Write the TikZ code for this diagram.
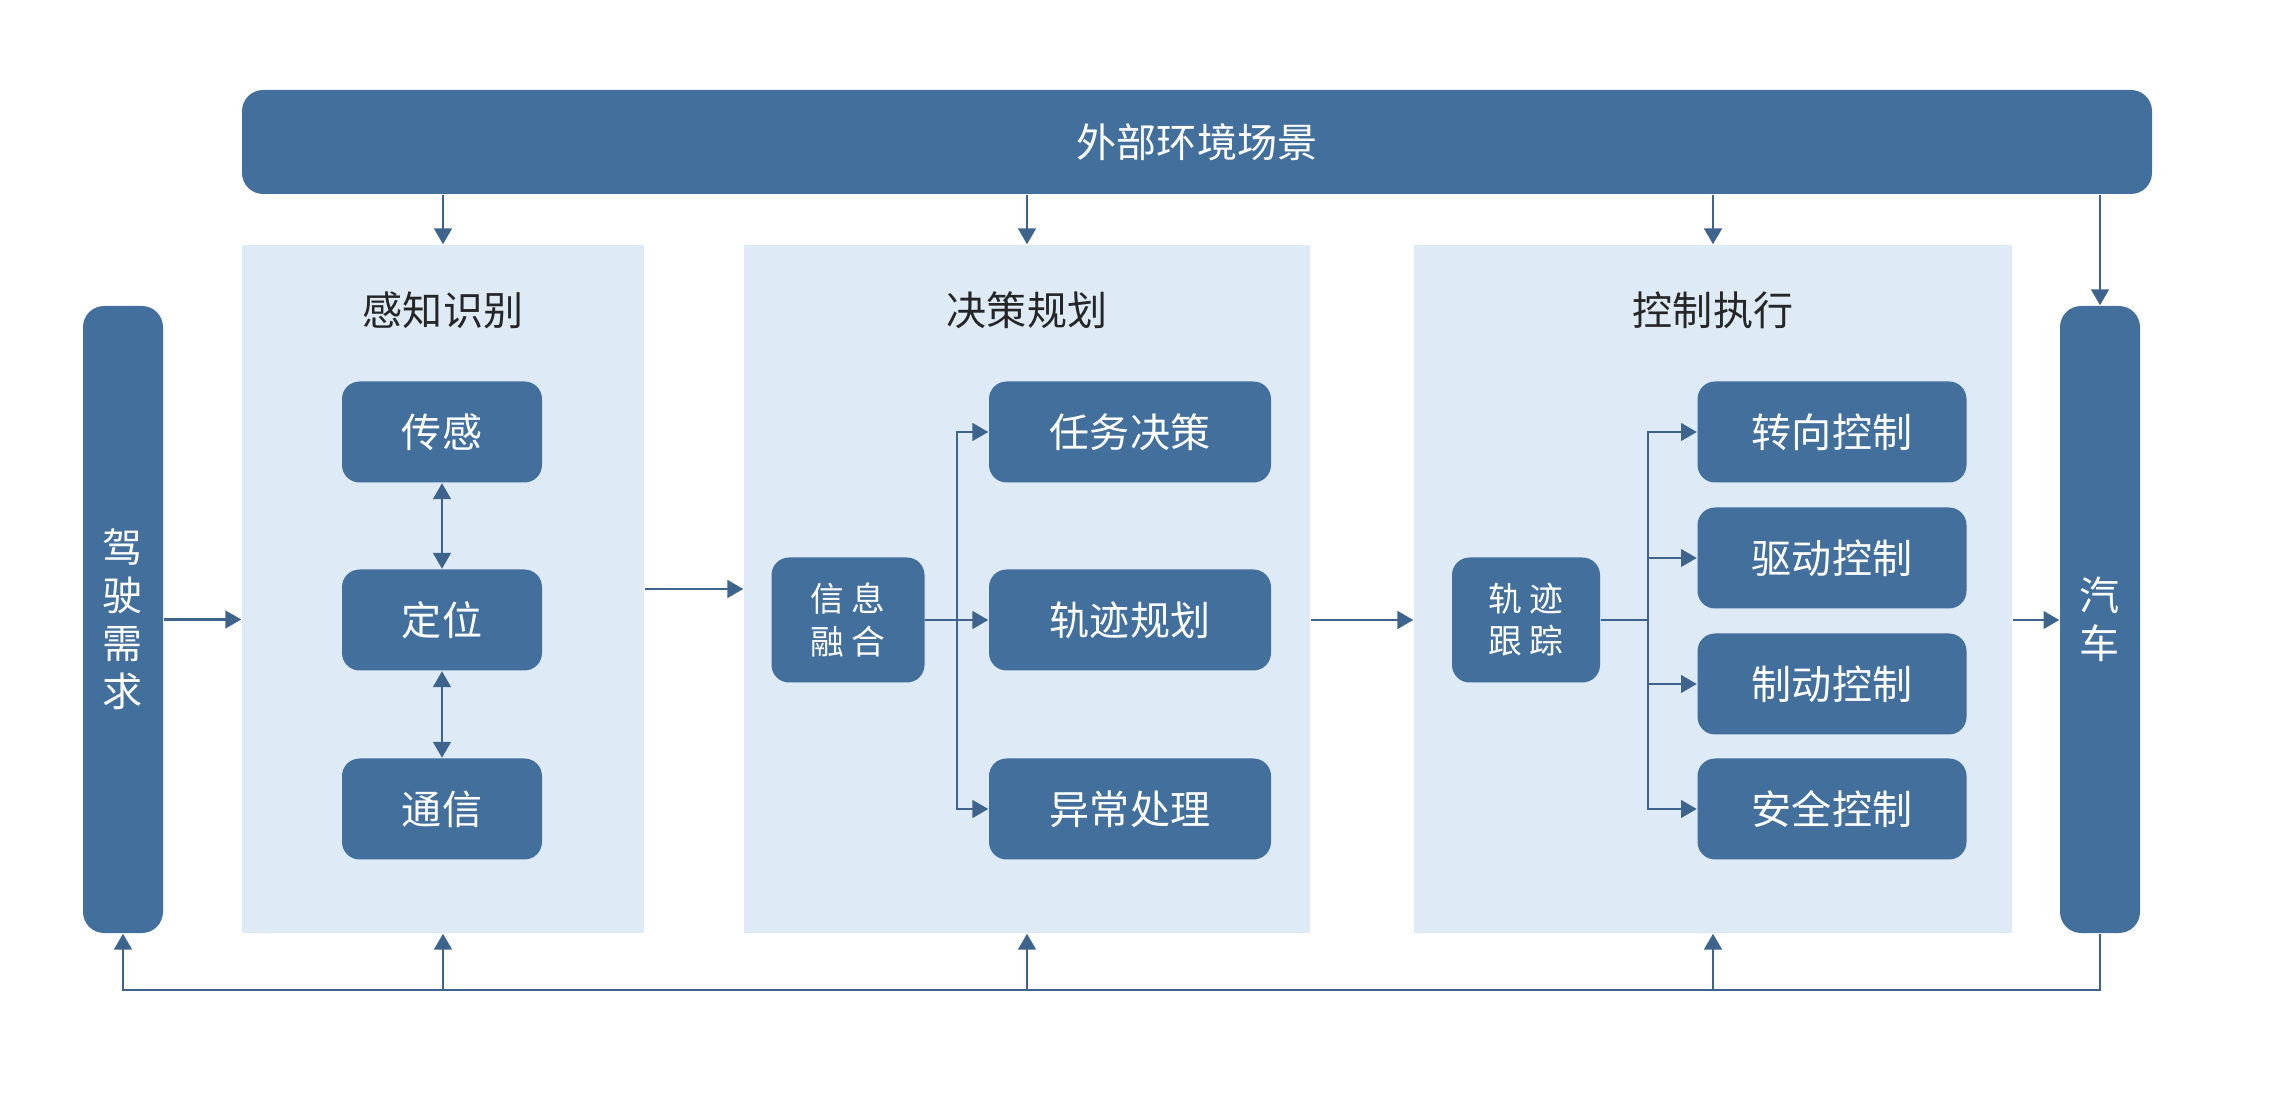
\documentclass[tikz,border=0pt]{standalone}
\usepackage{fontspec}
\newfontfamily\cjk{Noto Sans CJK SC}
\usepackage{tikz}
\usetikzlibrary{arrows.meta,positioning,calc}
\definecolor{sysblue}{RGB}{66,111,156}
\definecolor{syspanel}{RGB}{222,234,246}
\definecolor{sysline}{RGB}{62,100,142}
\tikzset{
  bar/.style={
    fill=sysblue,
    rounded corners=6pt,
    text=white,
    align=center,
    inner sep=0pt,
    font=\cjk\fontsize{11.4}{13.7}\selectfont
  },
  panel/.style={
    fill=syspanel,
    inner sep=0pt
  },
  title/.style={
    text=black!85,
    font=\cjk\fontsize{11.4}{13.7}\selectfont
  },
  unit/.style={
    fill=sysblue,
    rounded corners=5pt,
    text=white,
    align=center,
    inner sep=0pt,
    minimum height=1.01cm,
    font=\cjk\fontsize{11.4}{13.7}\selectfont
  },
  hub/.style={
    unit,
    minimum height=1.25cm,
    font=\cjk\fontsize{9.6}{12}\selectfont
  },
  flow/.style={-{Triangle[length=4.5pt,width=5pt]},line width=0.7pt,sysline},
  twoway/.style={{Triangle[length=4.5pt,width=5pt]}-{Triangle[length=4.5pt,width=5pt]},line width=0.7pt,sysline},
  link/.style={line width=0.7pt,sysline}
}

\begin{document}
\begin{tikzpicture}
  \useasboundingbox (0,0) rectangle (22.83,-11.15);

  % outer frame
  \node[bar, minimum width=19.10cm, minimum height=1.04cm] (env) at (11.97,-1.42) {外部环境场景};
  \node[bar, minimum width=0.80cm, minimum height=6.27cm] (demand) at (1.23,-6.195) {驾\\驶\\需\\求};
  \node[bar, minimum width=0.80cm, minimum height=6.27cm] (car) at (21.00,-6.195) {汽\\车};

  % three stages
  \node[panel, minimum width=4.02cm, minimum height=6.88cm] (p1) at (4.43,-5.89) {};
  \node[panel, minimum width=5.66cm, minimum height=6.88cm] (p2) at (10.27,-5.89) {};
  \node[panel, minimum width=5.98cm, minimum height=6.88cm] (p3) at (17.13,-5.89) {};
  \node[title] (t1) at (4.43,-3.10) {感知识别};
  \node[title] (t2) at (10.27,-3.10) {决策规划};
  \node[title] (t3) at (17.13,-3.10) {控制执行};

  \node[unit, minimum width=2.00cm] (sense) at (4.42,-4.32) {传感};
  \node[unit, minimum width=2.00cm] (locate) at (4.42,-6.20) {定位};
  \node[unit, minimum width=2.00cm] (comm) at (4.42,-8.09) {通信};

  \node[hub, minimum width=1.53cm] (fusion) at (8.48,-6.20) {信 息\\融 合};
  \node[unit, minimum width=2.82cm] (task) at (11.30,-4.32) {任务决策};
  \node[unit, minimum width=2.82cm] (plan) at (11.30,-6.20) {轨迹规划};
  \node[unit, minimum width=2.82cm] (fault) at (11.30,-8.09) {异常处理};

  \node[hub, minimum width=1.48cm] (track) at (15.26,-6.20) {轨 迹\\跟 踪};
  \node[unit, minimum width=2.69cm] (steer) at (18.32,-4.32) {转向控制};
  \node[unit, minimum width=2.69cm] (drive) at (18.32,-5.58) {驱动控制};
  \node[unit, minimum width=2.69cm] (brake) at (18.32,-6.84) {制动控制};
  \node[unit, minimum width=2.69cm] (safe) at (18.32,-8.09) {安全控制};

  \coordinate (fj) at (9.57,-6.20);
  \coordinate (tj) at (16.48,-6.20);
  \coordinate (fb) at (0,-9.90);

  % main flow
  \draw[flow] (demand.east) -- (demand.east -| p1.west);
  \draw[flow] (p1.east) -- (p2.west);
  \draw[flow] (p2.east |- plan) -- (p3.west |- plan);
  \draw[flow] (p3.east |- track) -- (car.west |- track);

  \draw[twoway] (sense) -- (locate);
  \draw[twoway] (locate) -- (comm);

  \draw[link] (fusion.east) -- (fj);
  \foreach \n in {task,plan,fault}
    \draw[flow] (fj) |- (\n.west);

  \draw[link] (track.east) -- (tj);
  \foreach \n in {steer,drive,brake,safe}
    \draw[flow] (tj) |- (\n.west);

  % environment input
  \foreach \n in {p1,p2,p3,car}
    \draw[flow] (env.south -| \n.north) -- (\n.north);

  % feedback
  \draw[flow] (car.south) -- (car.south |- fb) -- (demand.south |- fb) -- (demand.south);
  \foreach \n in {p1,p2,p3}
    \draw[flow] (\n.south |- fb) -- (\n.south);
\end{tikzpicture}
\end{document}
